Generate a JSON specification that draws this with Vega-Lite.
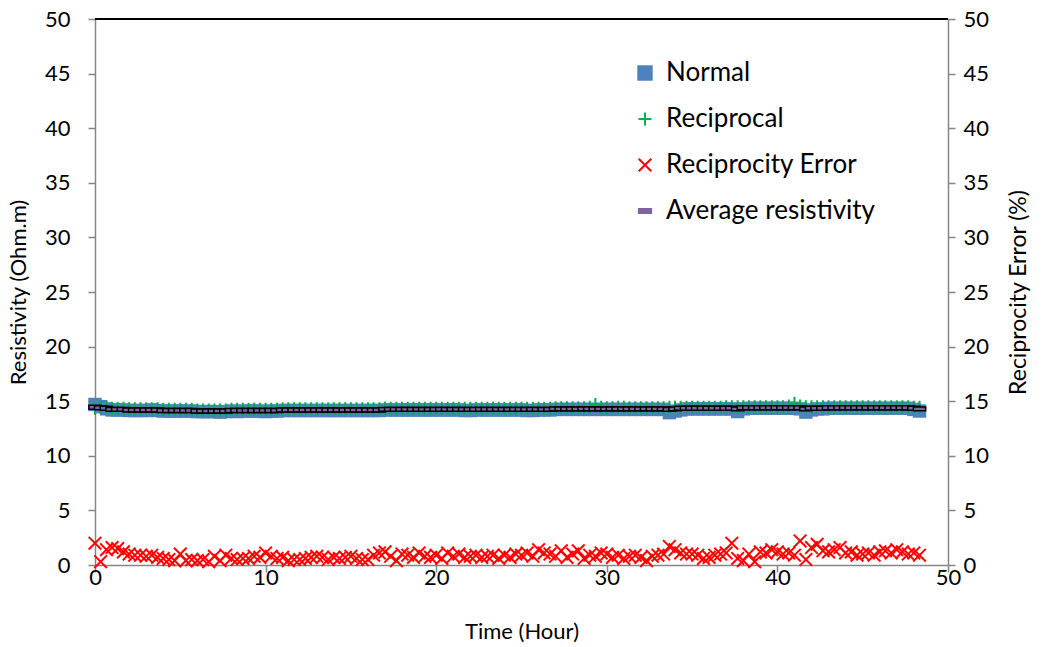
{
  "$schema": "https://vega.github.io/schema/vega-lite/v6.json",
  "width": 853,
  "height": 546,
  "autosize": "none",
  "padding": {"left": 95, "top": 19, "right": 94, "bottom": 82},
  "background": "white",
  "config": {
    "view": {"stroke": null},
    "font": "Lato",
    "axis": {
      "domainColor": "#868686",
      "domainWidth": 1.5,
      "tickColor": "#868686",
      "tickWidth": 1.5,
      "tickSize": 7,
      "labelColor": "black",
      "titleColor": "black",
      "labelFont": "Lato",
      "titleFont": "Lato",
      "labelFontSize": 22,
      "titleFontSize": 22,
      "titleFontWeight": "normal",
      "labelFlush": false,
      "grid": false
    },
    "legend": {
      "labelFont": "Lato",
      "labelFontSize": 26,
      "labelColor": "black",
      "labelLimit": 400,
      "symbolSize": 120
    }
  },
  "data": {"values": [
    {"t":0,"Normal":14.7,"Reciprocal":14.35,"Average resistivity":14.45,"Reciprocity Error":2.0},
    {"t":0.33,"Normal":14.5,"Reciprocal":14.45,"Average resistivity":14.4,"Reciprocity Error":0.3},
    {"t":0.67,"Normal":14.3,"Reciprocal":14.45,"Average resistivity":14.35,"Reciprocity Error":1.4},
    {"t":1,"Normal":14.2,"Reciprocal":14.35,"Average resistivity":14.25,"Reciprocity Error":1.6},
    {"t":1.33,"Normal":14.2,"Reciprocal":14.35,"Average resistivity":14.25,"Reciprocity Error":1.5},
    {"t":1.67,"Normal":14.2,"Reciprocal":14.35,"Average resistivity":14.25,"Reciprocity Error":1.2},
    {"t":2,"Normal":14.15,"Reciprocal":14.3,"Average resistivity":14.2,"Reciprocity Error":1.0},
    {"t":2.33,"Normal":14.15,"Reciprocal":14.3,"Average resistivity":14.2,"Reciprocity Error":0.9},
    {"t":2.67,"Normal":14.15,"Reciprocal":14.3,"Average resistivity":14.2,"Reciprocity Error":0.9},
    {"t":3,"Normal":14.15,"Reciprocal":14.3,"Average resistivity":14.2,"Reciprocity Error":0.8},
    {"t":3.33,"Normal":14.2,"Reciprocal":14.3,"Average resistivity":14.2,"Reciprocity Error":0.9},
    {"t":3.67,"Normal":14.15,"Reciprocal":14.3,"Average resistivity":14.2,"Reciprocity Error":0.7},
    {"t":4,"Normal":14.1,"Reciprocal":14.25,"Average resistivity":14.15,"Reciprocity Error":0.6},
    {"t":4.33,"Normal":14.1,"Reciprocal":14.25,"Average resistivity":14.15,"Reciprocity Error":0.5},
    {"t":4.67,"Normal":14.1,"Reciprocal":14.25,"Average resistivity":14.15,"Reciprocity Error":0.4},
    {"t":5,"Normal":14.1,"Reciprocal":14.25,"Average resistivity":14.15,"Reciprocity Error":1.0},
    {"t":5.33,"Normal":14.1,"Reciprocal":14.25,"Average resistivity":14.15,"Reciprocity Error":0.4},
    {"t":5.67,"Normal":14.1,"Reciprocal":14.25,"Average resistivity":14.15,"Reciprocity Error":0.5},
    {"t":6,"Normal":14.05,"Reciprocal":14.2,"Average resistivity":14.1,"Reciprocity Error":0.4},
    {"t":6.33,"Normal":14.05,"Reciprocal":14.2,"Average resistivity":14.1,"Reciprocity Error":0.5},
    {"t":6.67,"Normal":14.05,"Reciprocal":14.2,"Average resistivity":14.1,"Reciprocity Error":0.3},
    {"t":7,"Normal":14.05,"Reciprocal":14.2,"Average resistivity":14.1,"Reciprocity Error":0.8},
    {"t":7.33,"Normal":14.0,"Reciprocal":14.2,"Average resistivity":14.1,"Reciprocity Error":0.4},
    {"t":7.67,"Normal":14.05,"Reciprocal":14.2,"Average resistivity":14.1,"Reciprocity Error":0.9},
    {"t":8,"Normal":14.1,"Reciprocal":14.25,"Average resistivity":14.15,"Reciprocity Error":0.6},
    {"t":8.33,"Normal":14.05,"Reciprocal":14.25,"Average resistivity":14.15,"Reciprocity Error":0.5},
    {"t":8.67,"Normal":14.1,"Reciprocal":14.25,"Average resistivity":14.15,"Reciprocity Error":0.6},
    {"t":9,"Normal":14.1,"Reciprocal":14.25,"Average resistivity":14.15,"Reciprocity Error":0.6},
    {"t":9.33,"Normal":14.1,"Reciprocal":14.25,"Average resistivity":14.15,"Reciprocity Error":0.8},
    {"t":9.67,"Normal":14.1,"Reciprocal":14.25,"Average resistivity":14.15,"Reciprocity Error":0.7},
    {"t":10,"Normal":14.05,"Reciprocal":14.25,"Average resistivity":14.15,"Reciprocity Error":1.1},
    {"t":10.33,"Normal":14.1,"Reciprocal":14.25,"Average resistivity":14.15,"Reciprocity Error":0.8},
    {"t":10.67,"Normal":14.1,"Reciprocal":14.25,"Average resistivity":14.15,"Reciprocity Error":0.6},
    {"t":11,"Normal":14.15,"Reciprocal":14.3,"Average resistivity":14.2,"Reciprocity Error":0.7},
    {"t":11.33,"Normal":14.15,"Reciprocal":14.3,"Average resistivity":14.2,"Reciprocity Error":0.4},
    {"t":11.67,"Normal":14.15,"Reciprocal":14.3,"Average resistivity":14.2,"Reciprocity Error":0.5},
    {"t":12,"Normal":14.15,"Reciprocal":14.3,"Average resistivity":14.2,"Reciprocity Error":0.5},
    {"t":12.33,"Normal":14.15,"Reciprocal":14.3,"Average resistivity":14.2,"Reciprocity Error":0.6},
    {"t":12.67,"Normal":14.15,"Reciprocal":14.3,"Average resistivity":14.2,"Reciprocity Error":0.7},
    {"t":13,"Normal":14.15,"Reciprocal":14.3,"Average resistivity":14.2,"Reciprocity Error":0.8},
    {"t":13.33,"Normal":14.15,"Reciprocal":14.3,"Average resistivity":14.2,"Reciprocity Error":0.7},
    {"t":13.67,"Normal":14.15,"Reciprocal":14.3,"Average resistivity":14.2,"Reciprocity Error":0.5},
    {"t":14,"Normal":14.15,"Reciprocal":14.3,"Average resistivity":14.2,"Reciprocity Error":0.7},
    {"t":14.33,"Normal":14.15,"Reciprocal":14.3,"Average resistivity":14.2,"Reciprocity Error":0.6},
    {"t":14.67,"Normal":14.15,"Reciprocal":14.3,"Average resistivity":14.2,"Reciprocity Error":0.7},
    {"t":15,"Normal":14.15,"Reciprocal":14.3,"Average resistivity":14.2,"Reciprocity Error":0.8},
    {"t":15.33,"Normal":14.15,"Reciprocal":14.3,"Average resistivity":14.2,"Reciprocity Error":0.6},
    {"t":15.67,"Normal":14.15,"Reciprocal":14.3,"Average resistivity":14.2,"Reciprocity Error":0.5},
    {"t":16,"Normal":14.15,"Reciprocal":14.3,"Average resistivity":14.2,"Reciprocity Error":0.5},
    {"t":16.33,"Normal":14.15,"Reciprocal":14.3,"Average resistivity":14.2,"Reciprocity Error":0.9},
    {"t":16.67,"Normal":14.15,"Reciprocal":14.3,"Average resistivity":14.2,"Reciprocity Error":1.1},
    {"t":17,"Normal":14.2,"Reciprocal":14.35,"Average resistivity":14.25,"Reciprocity Error":1.2},
    {"t":17.33,"Normal":14.2,"Reciprocal":14.35,"Average resistivity":14.25,"Reciprocity Error":0.8},
    {"t":17.67,"Normal":14.2,"Reciprocal":14.35,"Average resistivity":14.25,"Reciprocity Error":0.4},
    {"t":18,"Normal":14.2,"Reciprocal":14.35,"Average resistivity":14.25,"Reciprocity Error":1.0},
    {"t":18.33,"Normal":14.2,"Reciprocal":14.35,"Average resistivity":14.25,"Reciprocity Error":0.9},
    {"t":18.67,"Normal":14.2,"Reciprocal":14.35,"Average resistivity":14.25,"Reciprocity Error":0.7},
    {"t":19,"Normal":14.2,"Reciprocal":14.35,"Average resistivity":14.25,"Reciprocity Error":1.1},
    {"t":19.33,"Normal":14.2,"Reciprocal":14.35,"Average resistivity":14.25,"Reciprocity Error":0.8},
    {"t":19.67,"Normal":14.2,"Reciprocal":14.35,"Average resistivity":14.25,"Reciprocity Error":0.7},
    {"t":20,"Normal":14.2,"Reciprocal":14.35,"Average resistivity":14.25,"Reciprocity Error":0.9},
    {"t":20.33,"Normal":14.2,"Reciprocal":14.35,"Average resistivity":14.25,"Reciprocity Error":0.6},
    {"t":20.67,"Normal":14.2,"Reciprocal":14.35,"Average resistivity":14.25,"Reciprocity Error":1.1},
    {"t":21,"Normal":14.2,"Reciprocal":14.35,"Average resistivity":14.25,"Reciprocity Error":0.8},
    {"t":21.33,"Normal":14.2,"Reciprocal":14.35,"Average resistivity":14.25,"Reciprocity Error":1.0},
    {"t":21.67,"Normal":14.15,"Reciprocal":14.35,"Average resistivity":14.25,"Reciprocity Error":0.7},
    {"t":22,"Normal":14.15,"Reciprocal":14.35,"Average resistivity":14.25,"Reciprocity Error":0.8},
    {"t":22.33,"Normal":14.2,"Reciprocal":14.35,"Average resistivity":14.25,"Reciprocity Error":0.9},
    {"t":22.67,"Normal":14.2,"Reciprocal":14.35,"Average resistivity":14.25,"Reciprocity Error":0.7},
    {"t":23,"Normal":14.2,"Reciprocal":14.35,"Average resistivity":14.25,"Reciprocity Error":0.8},
    {"t":23.33,"Normal":14.2,"Reciprocal":14.35,"Average resistivity":14.25,"Reciprocity Error":0.9},
    {"t":23.67,"Normal":14.2,"Reciprocal":14.35,"Average resistivity":14.25,"Reciprocity Error":0.6},
    {"t":24,"Normal":14.2,"Reciprocal":14.35,"Average resistivity":14.25,"Reciprocity Error":0.9},
    {"t":24.33,"Normal":14.2,"Reciprocal":14.35,"Average resistivity":14.25,"Reciprocity Error":0.7},
    {"t":24.67,"Normal":14.2,"Reciprocal":14.35,"Average resistivity":14.25,"Reciprocity Error":1.0},
    {"t":25,"Normal":14.2,"Reciprocal":14.35,"Average resistivity":14.25,"Reciprocity Error":0.9},
    {"t":25.33,"Normal":14.15,"Reciprocal":14.35,"Average resistivity":14.25,"Reciprocity Error":1.1},
    {"t":25.67,"Normal":14.15,"Reciprocal":14.35,"Average resistivity":14.25,"Reciprocity Error":0.8},
    {"t":26,"Normal":14.2,"Reciprocal":14.35,"Average resistivity":14.25,"Reciprocity Error":1.4},
    {"t":26.33,"Normal":14.2,"Reciprocal":14.35,"Average resistivity":14.25,"Reciprocity Error":1.1},
    {"t":26.67,"Normal":14.2,"Reciprocal":14.35,"Average resistivity":14.25,"Reciprocity Error":1.0},
    {"t":27,"Normal":14.25,"Reciprocal":14.4,"Average resistivity":14.3,"Reciprocity Error":0.8},
    {"t":27.33,"Normal":14.25,"Reciprocal":14.4,"Average resistivity":14.3,"Reciprocity Error":1.3},
    {"t":27.67,"Normal":14.25,"Reciprocal":14.4,"Average resistivity":14.3,"Reciprocity Error":0.7},
    {"t":28,"Normal":14.25,"Reciprocal":14.4,"Average resistivity":14.3,"Reciprocity Error":1.0},
    {"t":28.33,"Normal":14.25,"Reciprocal":14.4,"Average resistivity":14.3,"Reciprocity Error":1.3},
    {"t":28.67,"Normal":14.25,"Reciprocal":14.4,"Average resistivity":14.3,"Reciprocity Error":0.6},
    {"t":29,"Normal":14.25,"Reciprocal":14.45,"Average resistivity":14.3,"Reciprocity Error":0.9},
    {"t":29.33,"Normal":14.25,"Reciprocal":14.7,"Average resistivity":14.3,"Reciprocity Error":0.8},
    {"t":29.67,"Normal":14.25,"Reciprocal":14.45,"Average resistivity":14.3,"Reciprocity Error":1.1},
    {"t":30,"Normal":14.25,"Reciprocal":14.4,"Average resistivity":14.3,"Reciprocity Error":1.0},
    {"t":30.33,"Normal":14.25,"Reciprocal":14.4,"Average resistivity":14.3,"Reciprocity Error":0.7},
    {"t":30.67,"Normal":14.25,"Reciprocal":14.45,"Average resistivity":14.3,"Reciprocity Error":0.9},
    {"t":31,"Normal":14.25,"Reciprocal":14.45,"Average resistivity":14.3,"Reciprocity Error":0.6},
    {"t":31.33,"Normal":14.25,"Reciprocal":14.4,"Average resistivity":14.3,"Reciprocity Error":0.8},
    {"t":31.67,"Normal":14.25,"Reciprocal":14.4,"Average resistivity":14.3,"Reciprocity Error":0.9},
    {"t":32,"Normal":14.25,"Reciprocal":14.4,"Average resistivity":14.3,"Reciprocity Error":0.7},
    {"t":32.33,"Normal":14.25,"Reciprocal":14.4,"Average resistivity":14.3,"Reciprocity Error":0.4},
    {"t":32.67,"Normal":14.25,"Reciprocal":14.4,"Average resistivity":14.3,"Reciprocity Error":0.8},
    {"t":33,"Normal":14.25,"Reciprocal":14.4,"Average resistivity":14.3,"Reciprocity Error":0.9},
    {"t":33.33,"Normal":14.25,"Reciprocal":14.4,"Average resistivity":14.3,"Reciprocity Error":1.0},
    {"t":33.67,"Normal":13.95,"Reciprocal":14.45,"Average resistivity":14.25,"Reciprocity Error":1.7},
    {"t":34,"Normal":14.1,"Reciprocal":14.45,"Average resistivity":14.3,"Reciprocity Error":1.4},
    {"t":34.33,"Normal":14.2,"Reciprocal":14.45,"Average resistivity":14.35,"Reciprocity Error":1.1},
    {"t":34.67,"Normal":14.3,"Reciprocal":14.45,"Average resistivity":14.35,"Reciprocity Error":1.0},
    {"t":35,"Normal":14.3,"Reciprocal":14.45,"Average resistivity":14.35,"Reciprocity Error":1.0},
    {"t":35.33,"Normal":14.3,"Reciprocal":14.45,"Average resistivity":14.35,"Reciprocity Error":0.9},
    {"t":35.67,"Normal":14.3,"Reciprocal":14.45,"Average resistivity":14.35,"Reciprocity Error":0.6},
    {"t":36,"Normal":14.3,"Reciprocal":14.45,"Average resistivity":14.35,"Reciprocity Error":0.7},
    {"t":36.33,"Normal":14.3,"Reciprocal":14.45,"Average resistivity":14.35,"Reciprocity Error":0.9},
    {"t":36.67,"Normal":14.3,"Reciprocal":14.45,"Average resistivity":14.35,"Reciprocity Error":1.0},
    {"t":37,"Normal":14.3,"Reciprocal":14.5,"Average resistivity":14.35,"Reciprocity Error":1.1},
    {"t":37.33,"Normal":14.3,"Reciprocal":14.5,"Average resistivity":14.35,"Reciprocity Error":2.0},
    {"t":37.67,"Normal":14.05,"Reciprocal":14.5,"Average resistivity":14.3,"Reciprocity Error":0.6},
    {"t":38,"Normal":14.3,"Reciprocal":14.5,"Average resistivity":14.4,"Reciprocity Error":0.4},
    {"t":38.33,"Normal":14.35,"Reciprocal":14.5,"Average resistivity":14.4,"Reciprocity Error":1.0},
    {"t":38.67,"Normal":14.35,"Reciprocal":14.5,"Average resistivity":14.4,"Reciprocity Error":0.3},
    {"t":39,"Normal":14.35,"Reciprocal":14.5,"Average resistivity":14.4,"Reciprocity Error":1.2},
    {"t":39.33,"Normal":14.35,"Reciprocal":14.5,"Average resistivity":14.4,"Reciprocity Error":1.1},
    {"t":39.67,"Normal":14.35,"Reciprocal":14.5,"Average resistivity":14.4,"Reciprocity Error":1.4},
    {"t":40,"Normal":14.35,"Reciprocal":14.5,"Average resistivity":14.4,"Reciprocity Error":1.2},
    {"t":40.33,"Normal":14.35,"Reciprocal":14.5,"Average resistivity":14.4,"Reciprocity Error":1.0},
    {"t":40.67,"Normal":14.35,"Reciprocal":14.55,"Average resistivity":14.4,"Reciprocity Error":1.1},
    {"t":41,"Normal":14.35,"Reciprocal":14.8,"Average resistivity":14.4,"Reciprocity Error":0.9},
    {"t":41.33,"Normal":14.3,"Reciprocal":14.55,"Average resistivity":14.4,"Reciprocity Error":2.2},
    {"t":41.67,"Normal":14.0,"Reciprocal":14.5,"Average resistivity":14.3,"Reciprocity Error":0.5},
    {"t":42,"Normal":14.2,"Reciprocal":14.5,"Average resistivity":14.35,"Reciprocity Error":1.6},
    {"t":42.33,"Normal":14.3,"Reciprocal":14.5,"Average resistivity":14.35,"Reciprocity Error":1.9},
    {"t":42.67,"Normal":14.3,"Reciprocal":14.5,"Average resistivity":14.35,"Reciprocity Error":1.3},
    {"t":43,"Normal":14.35,"Reciprocal":14.5,"Average resistivity":14.4,"Reciprocity Error":1.2},
    {"t":43.33,"Normal":14.35,"Reciprocal":14.5,"Average resistivity":14.4,"Reciprocity Error":1.4},
    {"t":43.67,"Normal":14.35,"Reciprocal":14.5,"Average resistivity":14.4,"Reciprocity Error":1.6},
    {"t":44,"Normal":14.35,"Reciprocal":14.5,"Average resistivity":14.4,"Reciprocity Error":1.1},
    {"t":44.33,"Normal":14.35,"Reciprocal":14.5,"Average resistivity":14.4,"Reciprocity Error":1.2},
    {"t":44.67,"Normal":14.35,"Reciprocal":14.5,"Average resistivity":14.4,"Reciprocity Error":0.9},
    {"t":45,"Normal":14.35,"Reciprocal":14.5,"Average resistivity":14.4,"Reciprocity Error":1.0},
    {"t":45.33,"Normal":14.35,"Reciprocal":14.5,"Average resistivity":14.4,"Reciprocity Error":1.1},
    {"t":45.67,"Normal":14.35,"Reciprocal":14.5,"Average resistivity":14.4,"Reciprocity Error":0.9},
    {"t":46,"Normal":14.35,"Reciprocal":14.5,"Average resistivity":14.4,"Reciprocity Error":1.2},
    {"t":46.33,"Normal":14.35,"Reciprocal":14.5,"Average resistivity":14.4,"Reciprocity Error":1.3},
    {"t":46.67,"Normal":14.35,"Reciprocal":14.5,"Average resistivity":14.4,"Reciprocity Error":1.1},
    {"t":47,"Normal":14.35,"Reciprocal":14.5,"Average resistivity":14.4,"Reciprocity Error":1.4},
    {"t":47.33,"Normal":14.35,"Reciprocal":14.5,"Average resistivity":14.4,"Reciprocity Error":1.2},
    {"t":47.67,"Normal":14.35,"Reciprocal":14.5,"Average resistivity":14.4,"Reciprocity Error":1.0},
    {"t":48,"Normal":14.25,"Reciprocal":14.45,"Average resistivity":14.35,"Reciprocity Error":1.1},
    {"t":48.33,"Normal":14.1,"Reciprocal":14.45,"Average resistivity":14.3,"Reciprocity Error":0.9}
  ]},
  "layer": [
    {
      "transform": [{"fold": ["Normal", "Reciprocal", "Average resistivity"], "as": ["series", "value"]}],
      "encoding": {
        "x": {"field": "t", "type": "quantitative", "scale": {"domain": [0, 50], "nice": false},
          "axis": {"title": "Time (Hour)", "values": [0, 10, 20, 30, 40, 50], "labelPadding": -5, "titlePadding": 33}},
        "y": {"field": "value", "type": "quantitative", "scale": {"domain": [0, 50], "nice": false},
          "axis": {"title": "Resistivity (Ohm.m)", "values": [0, 5, 10, 15, 20, 25, 30, 35, 40, 45, 50], "labelPadding": 18, "titlePadding": 14}}
      },
      "layer": [
        {
          "transform": [{"filter": "datum.series === 'Normal'"}],
          "mark": {"type": "point", "filled": true, "opacity": 1},
          "encoding": {
            "color": {"field": "series", "type": "nominal",
              "scale": {"domain": ["Normal", "Reciprocal", "Reciprocity Error", "Average resistivity"], "range": ["#4F81BD", "#00B050", "#FF0000", "#7E649E"]},
              "legend": {"title": null, "orient": "none", "legendX": 531, "legendY": 41, "rowPadding": 20, "symbolOffset": 6, "labelOffset": 8,
                "symbolStrokeWidth": 2, "symbolSize": 120}},
            "shape": {"field": "series", "type": "nominal",
              "scale": {"domain": ["Normal", "Reciprocal", "Reciprocity Error", "Average resistivity"], "range": ["square", "M-1,0L1,0M0,-1L0,1", "M-1,-1L1,1M-1,1L1,-1", "M-1,-0.32L1,-0.32L1,0.32L-1,0.32Z"]}},
            "size": {"field": "series", "type": "nominal",
              "scale": {"domain": ["Normal", "Reciprocal", "Reciprocity Error", "Average resistivity"], "range": [180, 150, 75, 170]}, "legend": null}
          }
        },
        {
          "transform": [{"filter": "datum.series === 'Reciprocal'"}],
          "mark": {"type": "point", "filled": false, "strokeWidth": 2, "opacity": 1},
          "encoding": {
            "color": {"field": "series", "type": "nominal"},
            "shape": {"field": "series", "type": "nominal"},
            "size": {"field": "series", "type": "nominal", "legend": null}
          }
        },
        {
          "transform": [{"filter": "datum.series === 'Average resistivity'"}],
          "mark": {"type": "point", "filled": true, "stroke": "black", "strokeWidth": 1.5, "opacity": 1},
          "encoding": {
            "color": {"field": "series", "type": "nominal"},
            "shape": {"field": "series", "type": "nominal"},
            "size": {"field": "series", "type": "nominal", "legend": null}
          }
        },
        {
          "mark": {"type": "rule", "color": "black", "strokeWidth": 1.5},
          "encoding": {"y": {"datum": 50}, "x": {"datum": 0}, "x2": {"datum": 50}}
        }
      ]
    },
    {
      "transform": [{"fold": ["Reciprocity Error"], "as": ["series", "value"]}],
      "mark": {"type": "point", "filled": false, "strokeWidth": 2, "opacity": 1},
      "encoding": {
        "x": {"field": "t", "type": "quantitative"},
        "y": {"field": "value", "type": "quantitative", "scale": {"domain": [0, 50], "nice": false},
          "axis": {"orient": "right", "title": "Reciprocity Error (%)", "titleFontSize": 23, "titleAngle": 270, "values": [0, 5, 10, 15, 20, 25, 30, 35, 40, 45, 50], "labelPadding": 8, "titlePadding": 42}},
        "color": {"field": "series", "type": "nominal"},
        "shape": {"field": "series", "type": "nominal"},
        "size": {"field": "series", "type": "nominal", "legend": null}
      }
    }
  ],
  "resolve": {"scale": {"y": "independent"}}
}
